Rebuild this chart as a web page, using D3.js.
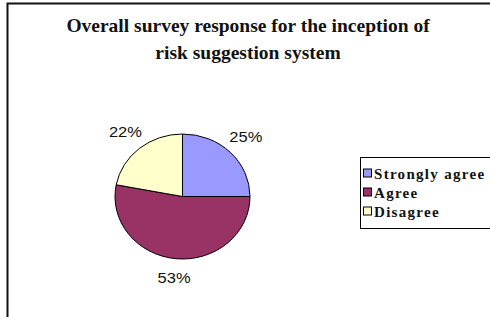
<!DOCTYPE html>
<html>
<head>
<meta charset="utf-8">
<script src="https://cdn.jsdelivr.net/npm/d3@7"></script>
<style>
	body { margin: 0; background: #fff; }
	svg { display: block; }
</style>
</head>
<body>
<svg id="chart" width="490" height="317"></svg>
<script>
"use strict";

var categories = ['Strongly agree', 'Agree', 'Disagree'];
var values = [25, 53, 22];
var labels = ['25%', '53%', '22%'];
var colors = ['#9999ff', '#993366', '#ffffcc'];
var titleLines = ['Overall survey response for the inception of', 'risk suggestion system'];

var svg = d3.select('#chart');

//outer frame, runs off the right and bottom edge
svg.append('rect')
	.attr('x', 7.5)
	.attr('y', 3.5)
	.attr('width', 500)
	.attr('height', 330)
	.style('fill', '#fff')
	.style('stroke', '#111')
	.style('stroke-width', 2);

//title
svg.append('g').selectAll('text').data(titleLines).enter().append('text')
	.attr('x', 248)
	.attr('y', function(d, i) { return 32 + i * 27; })
	.attr('text-anchor', 'middle')
	.style('font-family', '"Liberation Serif", "Times New Roman", serif')
	.style('font-weight', 'bold')
	.style('font-size', '19.5px')
	.style('fill', '#111')
	.text(function(d) { return d; });

//pie, slightly wider than tall
var cx = 182.5, cy = 196.5, r = 62.5, sx = 1.08;
var pie = d3.pie().sort(null).value(function(d) { return d; });
var arcs = pie(values);
var arc = d3.arc().innerRadius(0).outerRadius(r);
var labelArc = d3.arc().innerRadius(83).outerRadius(83);

var g = svg.append('g')
	.attr('transform', 'translate(' + cx + ',' + cy + ')');

g.append('g')
	.attr('transform', 'scale(' + sx + ',1)')
	.selectAll('path').data(arcs).enter().append('path')
	.attr('d', arc)
	.attr('vector-effect', 'non-scaling-stroke')
	.style('fill', function(d, i) { return colors[i]; })
	.style('stroke', '#000')
	.style('stroke-width', 1);

g.selectAll('.lbl').data(arcs).enter().append('text')
	.attr('class', 'lbl')
	.attr('x', function(d) { return labelArc.centroid(d)[0] * sx; })
	.attr('y', function(d) { return labelArc.centroid(d)[1] + 4; })
	.attr('text-anchor', 'middle')
	.attr('textLength', 33)
	.attr('lengthAdjust', 'spacingAndGlyphs')
	.style('font-family', '"Liberation Sans", Arial, sans-serif')
	.style('font-size', '14px')
	.style('fill', '#111')
	.text(function(d, i) { return labels[i]; });

//legend
var legend = svg.append('g');
legend.append('rect')
	.attr('x', 360.5)
	.attr('y', 157.5)
	.attr('width', 140)
	.attr('height', 71)
	.style('fill', '#fff')
	.style('stroke', '#000')
	.style('stroke-width', 1);

var rows = legend.selectAll('.row').data(categories).enter().append('g')
	.attr('class', 'row')
	.attr('transform', function(d, i) { return 'translate(363,' + (173.5 + i * 19) + ')'; });

rows.append('rect')
	.attr('x', 0.5)
	.attr('y', -4.5)
	.attr('width', 8)
	.attr('height', 8)
	.style('fill', function(d, i) { return colors[i]; })
	.style('stroke', '#000')
	.style('stroke-width', 1);

rows.append('text')
	.attr('x', 11)
	.attr('y', 5)
	.style('font-family', '"Liberation Serif", "Times New Roman", serif')
	.style('font-weight', 'bold')
	.style('font-size', '15px')
	.style('letter-spacing', '1.3px')
	.style('fill', '#111')
	.text(function(d) { return d; });
</script>
</body>
</html>
